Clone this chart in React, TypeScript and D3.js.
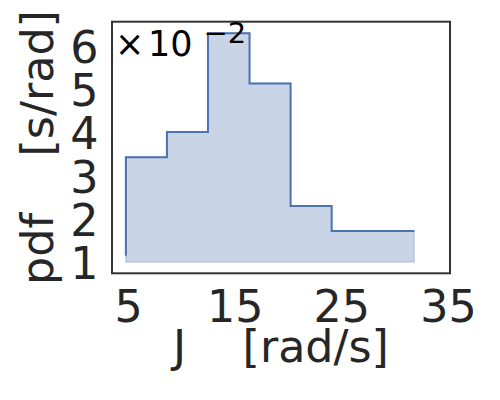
import React from "react";
import * as d3 from "d3";

// Histogram bin edges (J, rad/s) and pdf values (x 1e-2, s/rad)
const binEdges = [4.75, 8.6, 12.45, 16.35, 20.2, 24.05, 31.8];
const pdfValues = [3.447, 4.03, 6.31, 5.15, 2.317, 1.741];
const lineStart = 1.172;
const fillBase = 1.026;
const xTicks = [5, 15, 25, 35];
const yTicks = [1, 2, 3, 4, 5, 6];
const xLabel = "J    [rad/s]";
const yLabel = "pdf    [s/rad]";

const W = 500;
const H = 400;
const box = { left: 112, right: 450, top: 21.7, bottom: 273.3 };
const FONT = "DejaVu Sans";
const TXT = "#262626";
const BLUE = "#4c72b0";

export default function App() {
  const x = d3.scaleLinear().domain([3.45, 35.15]).range([box.left, box.right]);
  const y = d3.scaleLinear().domain([0.766, 6.574]).range([box.bottom, box.top]);

  const stepPts: [number, number][] = binEdges.slice(0, -1).map((e, i) => [e, pdfValues[i]]);
  stepPts.push([binEdges[binEdges.length - 1], pdfValues[pdfValues.length - 1]]);

  const area = d3
    .area<[number, number]>()
    .x((d) => x(d[0]))
    .y0(() => y(fillBase))
    .y1((d) => y(d[1]))
    .curve(d3.curveStepAfter);

  const line = d3
    .line<[number, number]>()
    .x((d) => x(d[0]))
    .y((d) => y(d[1]))
    .curve(d3.curveStepAfter);

  const linePts: [number, number][] = [[binEdges[0], lineStart], ...stepPts];

  return (
    <svg
      width={W}
      height={H}
      style={{ position: "absolute", left: 0, top: 0, background: "#fff" }}
      fontFamily={FONT}
    >
      <rect x={0} y={0} width={W} height={H} fill="#fff" />
      <path
        d={area(stepPts) || ""}
        fill={BLUE}
        fillOpacity={0.3}
        stroke={BLUE}
        strokeOpacity={0.3}
        strokeWidth={1.2}
      />
      <path d={line(linePts) || ""} fill="none" stroke={BLUE} strokeWidth={2} />
      <rect
        x={box.left}
        y={box.top}
        width={box.right - box.left}
        height={box.bottom - box.top}
        fill="none"
        stroke="#333"
        strokeWidth={2}
      />
      {xTicks.map((t) => (
        <text key={"x" + t} x={x(t)} y={321.7} textAnchor="middle" fontSize={44.4} fill={TXT}>
          {t}
        </text>
      ))}
      {yTicks.map((t) => (
        <text key={"y" + t} x={98.5} y={y(t) + 16} textAnchor="end" fontSize={44.4} fill={TXT}>
          {t}
        </text>
      ))}
      <text
        x={(box.left + box.right) / 2}
        y={361.7}
        textAnchor="middle"
        fontSize={44.4}
        fill={TXT}
        style={{ whiteSpace: "pre" }}
      >
        {xLabel}
      </text>
      <text
        transform={`translate(53,${(box.top + box.bottom) / 2}) rotate(-90)`}
        textAnchor="middle"
        fontSize={44.4}
        fill={TXT}
        style={{ whiteSpace: "pre" }}
      >
        {yLabel}
      </text>
      <text x={115} y={56} fontSize={35} fill="#000">
        ×
      </text>
      <text x={148} y={56} fontSize={35} fill="#000">
        10
      </text>
      <text x={203.5} y={43.3} fontSize={29} fill="#000">
        −2
      </text>
    </svg>
  );
}
